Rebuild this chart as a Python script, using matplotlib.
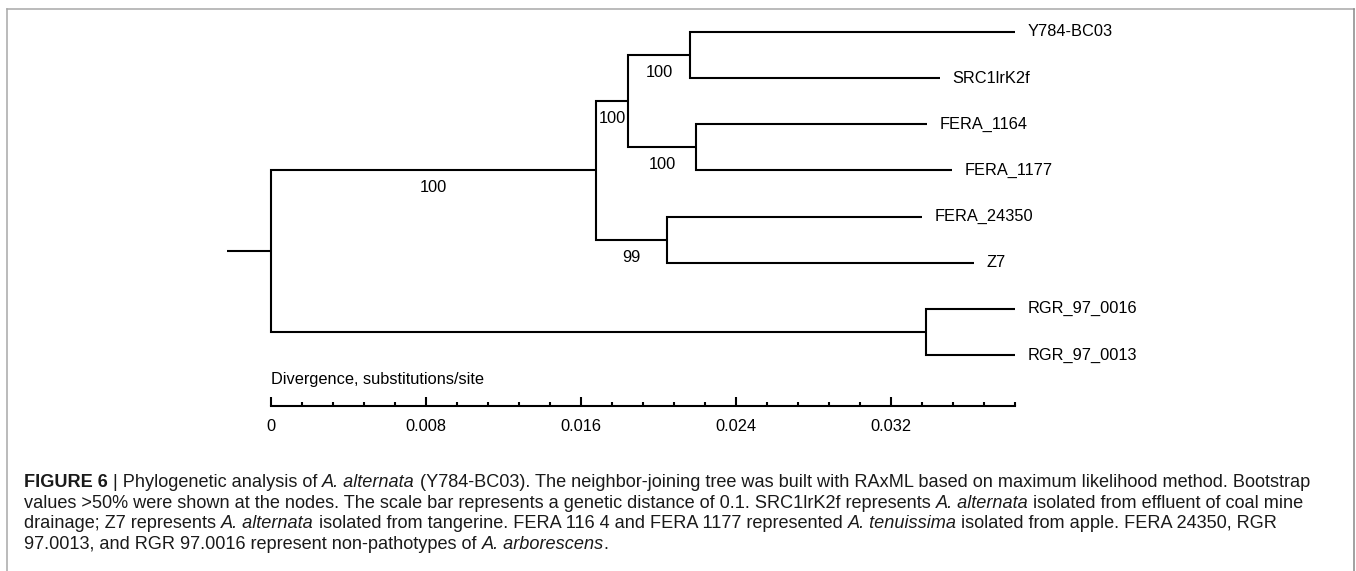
import matplotlib.pyplot as plt
from matplotlib import font_manager
from matplotlib.lines import Line2D

# tree topology and branch lengths (substitutions/site)
nodes = ['root', 'A', 'B', 'C', 'Y784-BC03', 'SRC1lrK2f', 'D', 'FERA_1164', 'FERA_1177',
         'E', 'FERA_24350', 'Z7', 'F', 'RGR_97_0016', 'RGR_97_0013']
parents = [None, 'root', 'A', 'B', 'C', 'C', 'B', 'D', 'D', 'A', 'E', 'E', 'root', 'F', 'F']
branch_len = [0.00227, 0.01678, 0.00165, 0.0032, 0.01678, 0.01291, 0.00351, 0.01193, 0.01322,
              0.00366, 0.01317, 0.01585, 0.03382, 0.00459, 0.00459]
leaf_order = ['Y784-BC03', 'SRC1lrK2f', 'FERA_1164', 'FERA_1177', 'FERA_24350', 'Z7',
              'RGR_97_0016', 'RGR_97_0013']
bootstrap = {'A': 100, 'B': 100, 'C': 100, 'D': 100, 'E': 99}

scale_major = [0, 0.008, 0.016, 0.024, 0.032]
scale_labels = ['0', '0.008', '0.016', '0.024', '0.032']
scale_end = 0.0384
scale_title = 'Divergence, substitutions/site'

caption = [
    [('FIGURE 6 ', 'bold'), ('| Phylogenetic analysis of ', 'normal'), ('A. alternata', 'italic'),
     (' (Y784-BC03). The neighbor-joining tree was built with RAxML based on maximum likelihood method. Bootstrap', 'normal')],
    [('values >50% were shown at the nodes. The scale bar represents a genetic distance of 0.1. SRC1lrK2f represents ', 'normal'),
     ('A. alternata', 'italic'), (' isolated from effluent of coal mine', 'normal')],
    [('drainage; Z7 represents ', 'normal'), ('A. alternata', 'italic'),
     (' isolated from tangerine. FERA 116 4 and FERA 1177 represented ', 'normal'), ('A. tenuissima', 'italic'),
     (' isolated from apple. FERA 24350, RGR', 'normal')],
    [('97.0013, and RGR 97.0016 represent non-pathotypes of ', 'normal'), ('A. arborescens', 'italic'), ('.', 'normal')],
]

try:
    font_manager.findfont(font_manager.FontProperties(family='Liberation Sans Narrow'),
                          fallback_to_default=False)
    fam, fs_tree = 'Liberation Sans Narrow', 13
except Exception:
    fam, fs_tree = 'Liberation Sans', 11.8
plt.rcParams['font.family'] = fam

W, H = 1356, 571
fig = plt.figure(figsize=(W / 100, H / 100), dpi=100)
ax = fig.add_axes([0, 0, 1, 1])
px_per_unit = 19370
x0_px = 271
y0_px, dy_px = 32, 46.14
ax.set_xlim(-x0_px / px_per_unit, (W - x0_px) / px_per_unit)
ax.set_ylim((H - y0_px) / dy_px, -y0_px / dy_px)
ax.axis('off')

# compute node positions
parent_of = dict(zip(nodes, parents))
blen = dict(zip(nodes, branch_len))
children = {n: [c for c in nodes if parent_of[c] == n] for n in nodes}
xpos = {}
for n in nodes:
    p = parent_of[n]
    xpos[n] = 0 if p is None else xpos[p] + blen[n]
ypos = {n: i for i, n in enumerate(leaf_order)}


def set_y(n):
    if n not in ypos:
        ys = [set_y(c) for c in children[n]]
        ypos[n] = sum(ys) / len(ys)
    return ypos[n]


set_y('root')
lw = 1.5
ax.plot([-blen['root'], 0], [ypos['root']] * 2, color='black', lw=lw, solid_capstyle='butt')
for n in nodes:
    p = parent_of[n]
    if p is None:
        continue
    ax.plot([xpos[p], xpos[p], xpos[n]], [ypos[p], ypos[n], ypos[n]], color='black', lw=lw,
            solid_capstyle='butt', solid_joinstyle='miter')
    if n in bootstrap:
        ax.text((xpos[p] + xpos[n]) / 2, ypos[n] + 0.38, str(bootstrap[n]), ha='center',
                va='center', fontsize=fs_tree)
    if not children[n]:
        ax.annotate(n, (xpos[n], ypos[n]), xytext=(9, 0), textcoords='offset points',
                    va='center', ha='left', fontsize=fs_tree)

# scale bar
sy = (H - 406) / H
sax = fig.add_axes([0, sy, 1, 0.04])
sax.set_xlim(ax.get_xlim())
sax.patch.set_visible(False)
for s in ['top', 'left', 'right']:
    sax.spines[s].set_visible(False)
sax.spines['bottom'].set_bounds(0, scale_end)
sax.spines['bottom'].set_linewidth(lw)
sax.set_yticks([])
sax.set_xticks(scale_major)
sax.set_xticklabels(scale_labels, fontsize=fs_tree)
minor_step = scale_major[1] / 5
sax.set_xticks([i * minor_step for i in range(int(round(scale_end / minor_step)) + 1)], minor=True)
sax.tick_params(axis='x', which='major', direction='in', length=6.5, width=lw, pad=9.5)
sax.tick_params(axis='x', which='minor', direction='in', length=3.2, width=lw)
ax.text(0, (380 - y0_px) / dy_px, scale_title, ha='left', va='center', fontsize=fs_tree)

# frame
fc = '#a8a8a8'
fig.add_artist(Line2D([7 / W, 7 / W], [0, 1 - 9 / H], color=fc, lw=1.1, transform=fig.transFigure))
fig.add_artist(Line2D([7 / W, 1354 / W], [1 - 9 / H] * 2, color=fc, lw=1.1, transform=fig.transFigure))
fig.add_artist(Line2D([1354 / W] * 2, [0, 1 - 9 / H], color='#888888', lw=1.1, transform=fig.transFigure))

# caption, pieces chained one after the other on each line
baselines = [487, 508, 528, 549]


def draw_caption(fs):
    out = []
    for line, yb in zip(caption, baselines):
        prev = None
        for txt, style in line:
            kw = dict(fontsize=fs, color='#1a1a1a',
                      fontweight='bold' if style == 'bold' else 'normal',
                      fontstyle='italic' if style == 'italic' else 'normal')
            if prev is None:
                prev = fig.text(24 / W, 1 - yb / H, txt, ha='left', va='baseline', **kw)
            else:
                prev = ax.annotate(txt, xy=(1, 0), xycoords=prev, ha='left', va='bottom',
                                   annotation_clip=False, **kw)
            out.append(prev)
    return out


fs_cap = 11.8
texts = draw_caption(fs_cap)
fig.canvas.draw()
r = fig.canvas.get_renderer()
line1_end = texts[len(caption[0]) - 1].get_window_extent(r).x1
scale = (1310 - 24) / (line1_end - 24)
if abs(scale - 1) > 0.01:
    for t in texts:
        t.remove()
    draw_caption(fs_cap * scale)

fig.savefig('out.png', dpi=100)
